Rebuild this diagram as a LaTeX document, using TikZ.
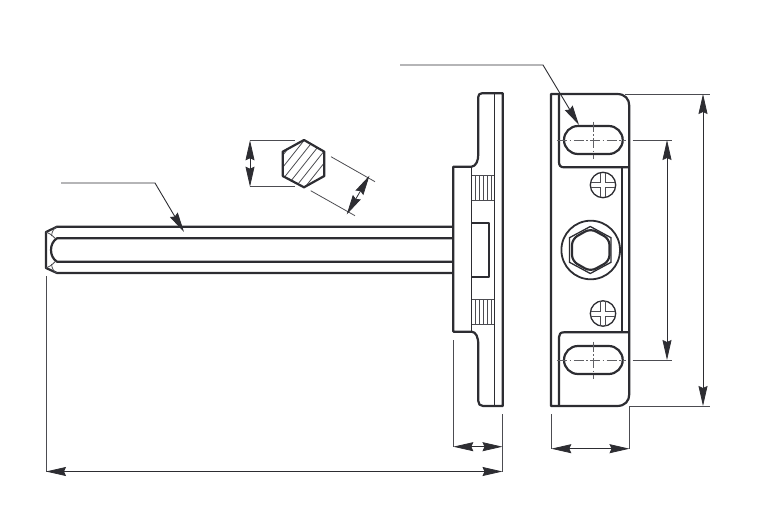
\documentclass[tikz,border=0pt]{standalone}
\usetikzlibrary{arrows.meta}
\definecolor{ink}{RGB}{45,45,50}
\tikzset{
  thick line/.style={draw=ink,line width=2.2pt,line join=round},
  mid line/.style={draw=ink,line width=1.3pt},
  thin line/.style={draw=ink!85,line width=0.8pt},
  dim/.style={draw=ink,line width=0.8pt,{Stealth[length=20pt,width=9pt,inset=2pt]}-{Stealth[length=20pt,width=9pt,inset=2pt]}},
  lead/.style={draw=ink,line width=0.9pt,-{Stealth[length=20pt,width=9pt,inset=2pt]}},
  center line/.style={draw=ink!75,line width=0.6pt,dash pattern=on 10pt off 2.5pt on 1.5pt off 2.5pt},
}
\begin{document}
\begin{tikzpicture}[x=1pt,y=-1pt]
\useasboundingbox (0,0) rectangle (765,527);
% coordinates for connectors
\coordinate (l1a) at (61,183); \coordinate (l1b) at (155,183); \coordinate (l1c) at (184,232);
\coordinate (l2a) at (400,65); \coordinate (l2b) at (543,65); \coordinate (l2c) at (579,125);
% rod
\draw[thick line] (453,226.7) -- (57,226.7) -- (46,232) -- (46,268) -- (57,273) -- (453,273);
\draw[thick line] (453,238.3) -- (57,238.3) .. controls (49,243) and (49,257) .. (57,261.7) -- (453,261.7);
\draw[thin line] (46,232) .. controls (49,233) and (52,235) .. (55,238.3);
\draw[thin line] (46,268) .. controls (49,267) and (52,265) .. (55,261.7);
\draw[thin line] (57,226.7) .. controls (54,228) and (52,231) .. (51.5,236);
\draw[thin line] (57,273) .. controls (54,272) and (52,269) .. (51.5,264);
% section hexagon
\begin{scope}
\clip (304,140) -- (324.3,151.7) -- (324.3,176) -- (304,187.3) -- (282.7,176) -- (282.7,151.7) -- cycle;
\foreach \k in {0,...,9} \draw[thin line] (241+\k*9.5,196) -- ++(46,-58);
\end{scope}
\draw[thick line] (304,140) -- (324.3,151.7) -- (324.3,176) -- (304,187.3) -- (282.7,176) -- (282.7,151.7) -- cycle;
\coordinate (h1a) at (250,140.3); \coordinate (h1b) at (250,186.7);
\draw[thin line] (h1a) -- (295,140.3);
\draw[thin line] (h1b) -- (295,186.7);
\draw[dim] (h1a) -- (h1b);
\coordinate (h2a) at (369.5,175.5); \coordinate (h2b) at (346.7,214.5);
\draw[thin line] (331,156.7) -- (375,181.7);
\draw[thin line] (310.7,190.7) -- (355,215.7);
\draw[dim] (h2a) -- (h2b);
% side view
\draw[thick line] (478.3,97) .. controls (478.3,94.5) and (479.5,93.3) .. (482,93.3) -- (502.7,93.3) -- (502.7,406) -- (483,406) .. controls (480,406) and (478.3,404) .. (478.3,401) -- (478.3,345) .. controls (478.3,337) and (476,332) .. (471.7,331.7) -- (453.3,331.7) -- (453.3,166.7) -- (471.7,166.7) .. controls (476,166) and (478.3,161) .. (478.3,154) -- cycle;
\draw[mid line] (471.7,166.7) -- (471.7,331.7);
\draw[mid line] (494.3,93.3) -- (494.3,406);
\draw[thick line] (471.7,222.7) -- (489,222.7) -- (489,276.7) -- (471.7,276.7);
\foreach \ya/\yb in {175.7/200.7,299.3/324}{
  \draw[thin line] (471.7,\ya) -- (494.3,\ya) (471.7,\yb) -- (494.3,\yb);
  \foreach \x in {475,479.3,483.5,487.7,491.5} \draw[thin line] (\x,\ya) -- (\x,\yb);
}
% front view
\draw[thick line] (551,94) -- (617,94) .. controls (625,94) and (629.3,99) .. (629.3,106) -- (629.3,394) .. controls (629.3,401) and (625,406) .. (617,406) -- (551,406) -- cycle;
\draw[thick line] (559,94) -- (559,162) .. controls (559,165.5) and (560.5,167.3) .. (564,167.3) -- (629.3,167.3);
\draw[thick line] (559,406) -- (559,337) .. controls (559,334) and (560.5,332.3) .. (564,332.3) -- (629.3,332.3);
\draw[thick line] (621.7,167.3) -- (621.7,332.3);
\foreach \yc in {140,360}{
  \draw[thick line] (578,\yc-14) -- (608.7,\yc-14) arc[start angle=-90,end angle=90,radius=14] -- (578,\yc+14) arc[start angle=90,end angle=270,radius=14] -- cycle;
  \draw[center line] (557,\yc) -- (626,\yc);
  \draw[center line] (593.3,\yc-18.5) -- (593.3,\yc+18.5);
}
\foreach \yc in {185,313.5}{
  \draw[mid line] (603,\yc) circle[radius=12.7];
  \draw[thin line,line width=1pt] (603-2.5,\yc-12.4) -- (603-2.5,\yc-2.5) -- (603-12.4,\yc-2.5)
     (603+2.5,\yc-12.4) -- (603+2.5,\yc-2.5) -- (603+12.4,\yc-2.5)
     (603-2.5,\yc+12.4) -- (603-2.5,\yc+2.5) -- (603-12.4,\yc+2.5)
     (603+2.5,\yc+12.4) -- (603+2.5,\yc+2.5) -- (603+12.4,\yc+2.5);
}
\draw[draw=ink,line width=1.8pt] (590.7,250) circle[radius=29.3];
\draw[mid line] (590.3,226.5) -- (611,237.7) -- (611,262.3) -- (590.3,273.5) -- (569.5,262.3) -- (569.5,237.7) -- cycle;
\draw[thick line,rounded corners=6pt] (590.5,228.5) -- (609.5,239) -- (609.5,261) -- (590.5,271.5) -- (572,261) -- (572,239) -- cycle;
% extension lines
\coordinate (e1) at (625,94); \coordinate (e2) at (710,94);
\coordinate (e3) at (629.5,406); \coordinate (e4) at (710,406);
\coordinate (e5) at (632.5,140); \coordinate (e6) at (672,140);
\coordinate (e7) at (632.5,360); \coordinate (e8) at (672,360);
\draw[thin line] (e1) -- (e2);
\draw[thin line] (e3) -- (e4);
\draw[thin line] (e5) -- (e6);
\draw[thin line] (e7) -- (e8);
\coordinate (d1a) at (703,94); \coordinate (d1b) at (703,406);
\coordinate (d2a) at (667,140); \coordinate (d2b) at (667,360);
\draw[dim] (d1a) -- (d1b);
\draw[dim] (d2a) -- (d2b);
% bottom dims
\draw[thin line] (551.3,414) -- (551.3,449);
\draw[thin line] (629.5,406) -- (629.5,449);
\coordinate (d3a) at (551.3,448.7); \coordinate (d3b) at (629.5,448.7);
\draw[dim] (d3a) -- (d3b);
\draw[thin line] (453.3,340) -- (453.3,447);
\draw[thin line] (502.5,414) -- (502.5,472);
\coordinate (d4a) at (453.3,446.7); \coordinate (d4b) at (502.5,446.7);
\draw[dim] (d4a) -- (d4b);
\draw[thin line] (46,276) -- (46,472);
\coordinate (d5a) at (46,471.5); \coordinate (d5b) at (502.5,471.5);
\draw[dim] (d5a) -- (d5b);
% leaders
\draw[lead] (l1a) -- (l1b) -- (l1c);
\draw[lead] (l2a) -- (l2b) -- (l2c);
\end{tikzpicture}
\end{document}
